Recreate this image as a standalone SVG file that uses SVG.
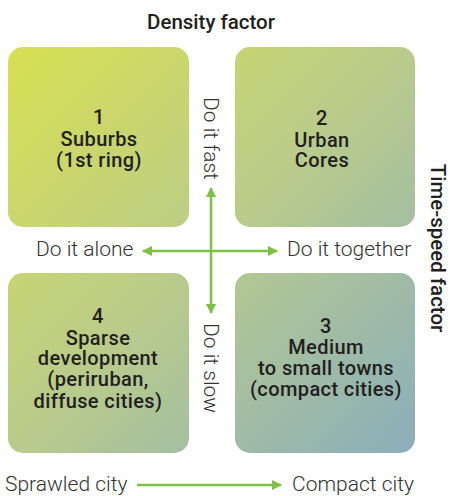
<svg xmlns="http://www.w3.org/2000/svg" width="450" height="496" viewBox="0 0 450 496">
<defs>
<linearGradient id="g" gradientUnits="userSpaceOnUse" x1="8" y1="47" x2="415" y2="453">
<stop offset="0" stop-color="#d8e052"/>
<stop offset="0.5" stop-color="#b9cb8c"/>
<stop offset="1" stop-color="#8aaebb"/>
</linearGradient>
<marker id="ah" viewBox="0 0 10 10" refX="9" refY="5" markerWidth="4" markerHeight="4" orient="auto-start-reverse" markerUnits="strokeWidth">
<path d="M0,0 L10,5 L0,10 z" fill="#7dc142"/>
</marker>
<style>
.box{fill:url(#g);}
.t{font-family:Roboto,"Liberation Sans",sans-serif;font-size:20px;font-weight:500;letter-spacing:0.4px;fill:#231f20;text-anchor:middle;}
.h{font-family:Roboto,"Liberation Sans",sans-serif;font-size:20.5px;font-weight:500;fill:#231f20;text-anchor:middle;}
.l{font-family:Roboto,"Liberation Sans",sans-serif;font-size:21px;font-weight:300;fill:#333;}
.c{stroke:#7dc142;stroke-width:2.5;fill:none;}
</style>
</defs>
<text class="h" x="211" y="29">Density factor</text>
<text class="h" transform="translate(431,248) rotate(90)">Time-speed factor</text>
<g id="box1">
<rect class="box" x="8" y="47" width="181" height="180" rx="15"/>
<text class="t"><tspan x="99" y="124">1</tspan><tspan x="99" y="146">Suburbs</tspan><tspan x="99" y="167">(1st ring)</tspan></text>
</g>
<g id="box2">
<rect class="box" x="235" y="47" width="180" height="180" rx="15"/>
<text class="t"><tspan x="322" y="125">2</tspan><tspan x="322" y="147">Urban</tspan><tspan x="322" y="167">Cores</tspan></text>
</g>
<g id="box4">
<rect class="box" x="8" y="273" width="181" height="180" rx="15"/>
<text class="t"><tspan x="98" y="323">4</tspan><tspan x="98" y="345">Sparse</tspan><tspan x="98" y="365">development</tspan><tspan x="98" y="386">(periruban,</tspan><tspan x="98" y="408">diffuse cities)</tspan></text>
</g>
<g id="box3">
<rect class="box" x="235" y="273" width="180" height="180" rx="15"/>
<text class="t"><tspan x="326" y="333">3</tspan><tspan x="326" y="354">Medium</tspan><tspan x="326" y="375">to small towns</tspan><tspan x="326" y="396">(compact cities)</tspan></text>
</g>
<g id="labels">
<text class="l" x="36" y="256">Do it alone</text>
<text class="l" x="287" y="256">Do it together</text>
<text class="l" x="5" y="491">Sprawled city</text>
<text class="l" x="292" y="491">Compact city</text>
<text class="l" transform="translate(204,97) rotate(90)">Do it fast</text>
<text class="l" transform="translate(204,323) rotate(90)">Do it slow</text>
</g>
<g id="connectors">
<line class="c" x1="211" y1="188" x2="211" y2="313" marker-start="url(#ah)" marker-end="url(#ah)"/>
<line class="c" x1="143" y1="251" x2="277" y2="251" marker-start="url(#ah)" marker-end="url(#ah)"/>
<line class="c" x1="137" y1="485" x2="281" y2="485" marker-end="url(#ah)"/>
</g>
</svg>
